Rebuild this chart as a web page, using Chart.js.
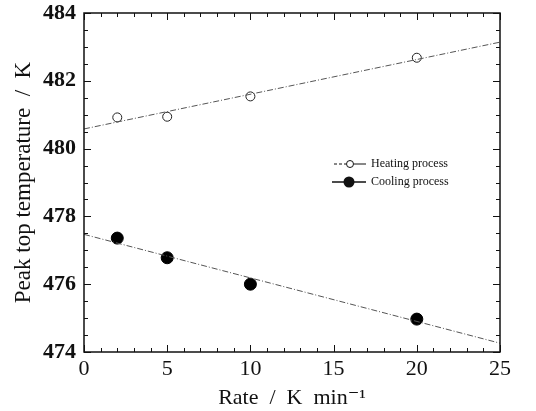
<!DOCTYPE html>
<html>
<head>
<meta charset="utf-8">
<script src="https://cdn.jsdelivr.net/npm/chart.js@4.4.0/dist/chart.umd.min.js"></script>
<style>
  html, body { margin: 0; padding: 0; background: #fff; }
  #wrap { width: 536px; height: 411px; }
</style>
</head>
<body>
<div id="wrap"><canvas id="peaks"></canvas></div>
<script>
// values
var rates = [2, 5, 10, 20];
var heatingTemps = [480.92, 480.94, 481.54, 482.68];
var coolingTemps = [477.36, 476.78, 476.0, 474.97];
// linear fit end points (rate 0 and 25)
var fitRates = [0, 25];
var heatingFit = [480.58, 483.14];
var coolingFit = [477.47, 474.26];

var serif = '"Liberation Serif", "DejaVu Serif", serif';

function pts(xs, ys) {
  return xs.map(function(x, i) { return {x: x, y: ys[i]}; });
}

// inward ticks, frame and the little legend
var decor = {
  id: 'decor',
  afterDraw: function(chart) {
    var c = chart.ctx, a = chart.chartArea;
    var xs = chart.scales.x, ys = chart.scales.y;
    c.save();
    c.strokeStyle = '#111';
    c.lineWidth = 1;
    for (var v = 0; v <= 25; v++) {
      var px = Math.round(xs.getPixelForValue(v)) + 0.5;
      var len = v % 5 === 0 ? 7 : 4;
      c.beginPath(); c.moveTo(px, a.bottom); c.lineTo(px, a.bottom - len); c.stroke();
      c.beginPath(); c.moveTo(px, a.top); c.lineTo(px, a.top + len); c.stroke();
    }
    for (var t = 474; t <= 484; t += 0.5) {
      var py = Math.round(ys.getPixelForValue(t)) + 0.5;
      var l2 = t % 2 === 0 ? 7 : 4;
      c.beginPath(); c.moveTo(a.left, py); c.lineTo(a.left + l2, py); c.stroke();
      c.beginPath(); c.moveTo(a.right, py); c.lineTo(a.right - l2, py); c.stroke();
    }
    c.lineWidth = 1.5;
    c.strokeRect(a.left, a.top, a.right - a.left, a.bottom - a.top);

    // legend
    c.font = '12px ' + serif;
    c.fillStyle = '#111';
    c.textBaseline = 'middle';
    var lx = 334, ly1 = 164, ly2 = 182;
    c.lineWidth = 1;
    c.setLineDash([3, 2]);
    c.beginPath(); c.moveTo(lx, ly1); c.lineTo(lx + 12, ly1); c.stroke();
    c.setLineDash([]);
    c.beginPath(); c.moveTo(lx + 20, ly1); c.lineTo(lx + 32, ly1); c.stroke();
    c.beginPath(); c.arc(lx + 16, ly1, 3.5, 0, Math.PI * 2); c.stroke();
    c.fillText('Heating process', lx + 37, ly1);
    c.lineWidth = 1.5;
    c.beginPath(); c.moveTo(lx - 2, ly2); c.lineTo(lx + 32, ly2); c.stroke();
    c.beginPath(); c.arc(lx + 15, ly2, 5.5, 0, Math.PI * 2); c.fill();
    c.fillText('Cooling process', lx + 37, ly2);
    c.restore();
  }
};

new Chart('peaks', {
  type: 'scatter',
  plugins: [decor],
  data: {
    datasets: [
      {
        label: 'Heating fit',
        data: pts(fitRates, heatingFit),
        showLine: true,
        borderColor: '#555',
        borderWidth: 1,
        borderDash: [6, 2, 1, 2],
        pointRadius: 0
      },
      {
        label: 'Cooling fit',
        data: pts(fitRates, coolingFit),
        showLine: true,
        borderColor: '#555',
        borderWidth: 1,
        borderDash: [6, 2, 1, 2],
        pointRadius: 0
      },
      {
        label: 'Heating process',
        data: pts(rates, heatingTemps),
        pointRadius: 4.5,
        pointBackgroundColor: '#fff',
        pointBorderColor: '#222',
        pointBorderWidth: 1
      },
      {
        label: 'Cooling process',
        data: pts(rates, coolingTemps),
        pointRadius: 6,
        pointBackgroundColor: '#000',
        pointBorderColor: '#000',
        pointBorderWidth: 1
      }
    ]
  },
  options: {
    responsive: true,
    maintainAspectRatio: false,
    animation: false,
    layout: { padding: { top: 13, right: 36, left: 0, bottom: 0 } },
    plugins: {
      legend: { display: false },
      tooltip: { enabled: false }
    },
    scales: {
      x: {
        type: 'linear',
        min: 0,
        max: 25,
        grid: { display: false, drawTicks: false },
        border: { display: false },
        ticks: {
          stepSize: 5,
          padding: 4,
          color: '#111',
          font: { family: serif, size: 22 }
        },
        title: {
          display: true,
          text: 'Rate  /  K  min\u207B\u00B9',
          color: '#111',
          padding: { top: 2, bottom: 0 },
          font: { family: serif, size: 22 }
        },
        afterFit: function(s) { s.height = 59; s.paddingLeft = 0; s.paddingRight = 0; }
      },
      y: {
        type: 'linear',
        min: 474,
        max: 484,
        grid: { display: false, drawTicks: false },
        border: { display: false },
        ticks: {
          stepSize: 2,
          padding: 8,
          color: '#111',
          font: { family: serif, size: 22, weight: 'bold' }
        },
        title: {
          display: true,
          text: 'Peak top temperature  /  K',
          color: '#111',
          padding: { top: 10, bottom: 0 },
          font: { family: serif, size: 23 }
        },
        afterFit: function(s) { s.width = 84; s.paddingTop = 0; s.paddingBottom = 0; }
      }
    }
  }
});
</script>
</body>
</html>
